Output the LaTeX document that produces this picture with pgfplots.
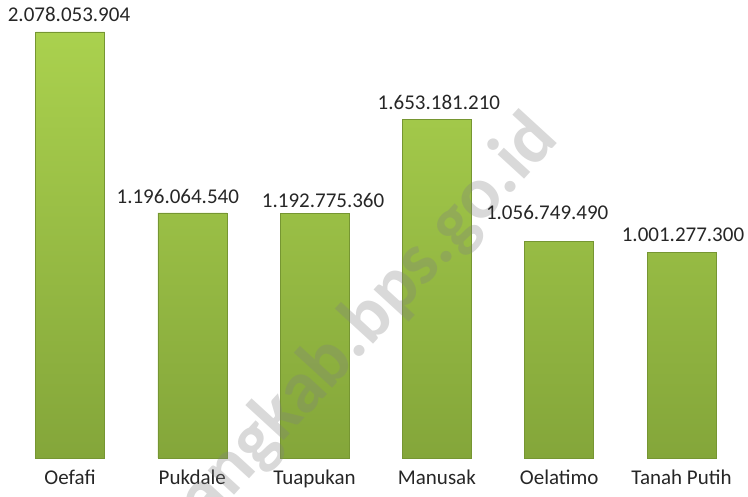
\documentclass[border=0pt]{standalone}
\usepackage{pgfplots}
\pgfplotsset{compat=1.18}
\usepackage{pgfplotstable}
\usepackage{fontspec}
\setmainfont{Carlito}
\definecolor{bartop}{RGB}{170,209,78}
\definecolor{barbot}{RGB}{132,166,58}
\definecolor{baredge}{RGB}{118,150,50}
\pgfplotstableread{
x y label dx dy
0 2078053904 2.078.053.904 -1 1
1 1196064540 1.196.064.540 -14.5 0
2 1192775360 1.192.775.360 8.5 -3
3 1653181210 1.653.181.210 2 1
4 1056749490 1.056.749.490 -12 13
5 1001277300 1.001.277.300 1.5 2
}\datatable
\begin{document}
\begin{tikzpicture}
\begin{axis}[
  scale only axis,
  width=748pt, height=497pt,
  xmin=-0.5724, xmax=5.5437,
  ymin=-190.24e6, ymax=2234.15e6,
  axis line style={draw=none},
  major tick length=0pt,
  ytick=\empty,
  xtick=data,
  xticklabels={Oefafi,Pukdale,Tuapukan,Manusak,Oelatimo,Tanah Putih},
  xticklabel style={anchor=base, yshift=12pt, font=\fontsize{21}{25}\selectfont, text=black!85},
  clip=false,
  ybar, bar width=69pt,
  nodes near coords,
  point meta=explicit symbolic,
  visualization depends on={\thisrow{dx} \as \dx},
  visualization depends on={\thisrow{dy} \as \dy},
  every node near coord/.append style={anchor=base, inner sep=0pt, xshift=\dx pt, yshift=9pt+\dy pt, font=\fontsize{21}{25}\selectfont, text=black!85},
]
\addplot[draw=baredge, line width=0.6pt, top color=bartop, bottom color=barbot]
  table[x=x, y=y, meta=label] {\datatable};
\node[rotate=47.5, anchor=base east, inner sep=0pt, text=gray, opacity=0.3, font=\bfseries\fontsize{74}{80}\selectfont]
  at (axis cs:4.007,1551e6) {kupangkab.bps.go.id};
\end{axis}
\pgfresetboundingbox
\path[use as bounding box] (current axis.south west) rectangle (current axis.north east);
\end{tikzpicture}
\end{document}
